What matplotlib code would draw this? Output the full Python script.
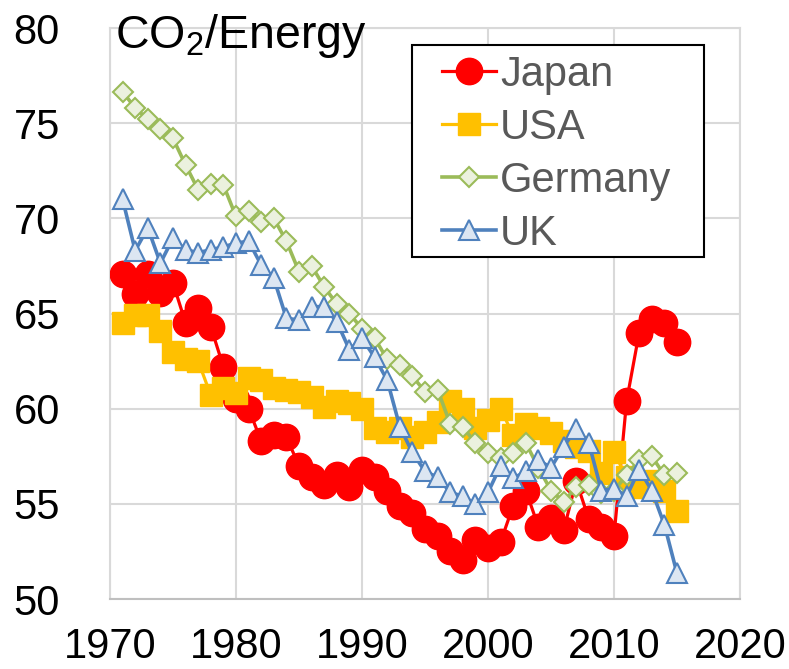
import matplotlib
matplotlib.use("Agg")
import matplotlib.pyplot as plt
from matplotlib.lines import Line2D
from matplotlib.legend_handler import HandlerLine2D
from matplotlib.patches import Rectangle

plt.rcParams["font.family"] = ["Liberation Sans", "DejaVu Sans"]
plt.rcParams["mathtext.default"] = "regular"

# ── data ──────────────────────────────────────────────────────────────────
years = list(range(1971, 2016))

japan = [67.1, 66.0, 67.1, 66.1, 66.6, 64.5, 65.3, 64.3, 62.2, 60.5,
         60.0, 58.3, 58.6, 58.5, 57.0, 56.4, 56.0, 56.5, 55.9, 56.8,
         56.4, 55.7, 54.9, 54.5, 53.7, 53.3, 52.5, 52.05, 53.1, 52.7,
         53.0, 54.9, 55.7, 53.8, 54.25, 53.6, 56.2, 54.2, 53.8, 53.3,
         60.4, 64.0, 64.7, 64.5, 63.5]

usa = [64.5, 64.9, 64.9, 64.1, 63.0, 62.6, 62.5, 60.7, 61.1, 60.8,
       61.6, 61.5, 61.1, 61.0, 60.9, 60.6, 60.1, 60.4, 60.3, 60.0,
       59.0, 58.8, 59.0, 58.5, 58.8, 59.3, 60.4, 60.0, 59.0, 59.4,
       60.0, 58.6, 59.2, 59.0, 58.7, 58.3, 58.0, 57.8, 56.6, 57.7,
       56.4, 55.9, 56.2, 55.7, 54.6]

germany = [76.65, 75.8, 75.2, 74.7, 74.2, 72.8, 71.5, 71.8, 71.75, 70.1,
           70.4, 69.8, 70.0, 68.8, 67.2, 67.5, 66.4, 65.5, 65.0, 64.2,
           63.7, 62.6, 62.3, 61.7, 60.9, 61.0, 59.2, 59.05, 58.2, 57.65,
           57.4, 57.65, 58.2, 56.9, 55.7, 55.1, 55.9, 56.0, 55.55, 55.7,
           56.5, 57.3, 57.5, 56.5, 56.6]

uk = [71.0, 68.3, 69.5, 67.65, 68.95, 68.35, 68.2, 68.35, 68.5, 68.7,
      68.8, 67.55, 66.85, 64.75, 64.66, 65.36, 65.36, 64.57, 63.1, 63.7,
      62.7, 61.5, 59.05, 57.7, 56.7, 56.4, 55.6, 55.4, 55.0, 55.6,
      57.0, 56.35, 56.7, 57.3, 56.9, 58.0, 58.95, 58.2, 55.7, 55.8,
      55.4, 56.8, 55.7, 53.9, 51.35]

x_ticks = [1970, 1980, 1990, 2000, 2010, 2020]
y_ticks = [50, 55, 60, 65, 70, 75, 80]

# ── figure ────────────────────────────────────────────────────────────────
W, H = 789, 669
fig = plt.figure(figsize=(W / 100, H / 100), dpi=100)
ax = fig.add_axes([110 / W, 1 - 599 / H, 630 / W, 571 / H])

ax.plot(years, japan, color="#FF0000", lw=2.3, marker="o", ms=19,
        mec="#FF0000", mfc="#FF0000", label="Japan", zorder=3)
ax.plot(years, usa, color="#FFC000", lw=2.3, marker="s", ms=16,
        mec="#FFC000", mfc="#FFC000", label="USA", zorder=3.1)
ax.plot(years, germany, color="#9BBB59", lw=2.6, marker="D", ms=10.5,
        mec="#9BBB59", mfc="#EBF1DE", mew=1.5, label="Germany", zorder=3.2)
ax.plot(years, uk, color="#4F81BD", lw=2.6, marker="^", ms=15,
        mec="#4F81BD", mfc="#DCE6F2", mew=1.5, label="UK", zorder=3.3)

ax.set_xlim(1970, 2020)
ax.set_ylim(50, 80)
ax.set_xticks(x_ticks)
ax.set_yticks(y_ticks)
ax.tick_params(axis="x", length=0, pad=20.5, labelsize=30)
ax.tick_params(axis="y", length=0, pad=36, labelsize=30)
ax.grid(True, color="#D9D9D9", lw=1.5, zorder=0)
ax.set_axisbelow(True)
for side in ["top", "right", "left"]:
    ax.spines[side].set_color("#D9D9D9")
    ax.spines[side].set_linewidth(1.5)
ax.spines["bottom"].set_color("#BFBFBF")
ax.spines["bottom"].set_linewidth(1.5)

fig.text(115 / W, 1 - 48 / H, "CO$_2$/Energy", fontsize=33.5,
         ha="left", va="baseline")

# ── legend ────────────────────────────────────────────────────────────────
ax.add_patch(Rectangle((412 / W, 1 - 257 / H), 292 / W, 212 / H,
                       transform=fig.transFigure, facecolor="white",
                       edgecolor="black", lw=1.5, clip_on=False, zorder=6))
leg = ax.legend(loc="upper left", bbox_to_anchor=(416 / W, 1 - 55 / H),
                bbox_transform=fig.transFigure, frameon=False,
                fontsize=30, borderpad=0, borderaxespad=0,
                handlelength=1.92, handletextpad=0.1, labelspacing=0.31,
                handler_map={Line2D: HandlerLine2D(xpad=0.62)})
leg.set_zorder(7)
for t in leg.get_texts():
    t.set_color("#595959")

fig.savefig("out.png", dpi=100)
